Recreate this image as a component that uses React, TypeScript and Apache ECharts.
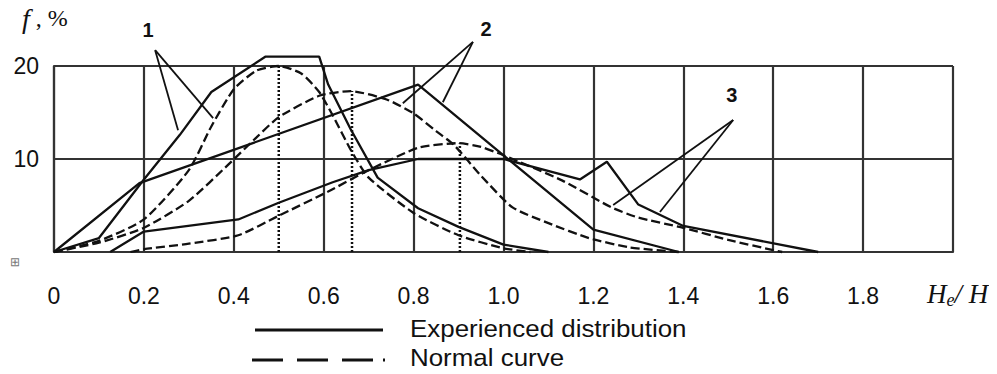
import React, { useEffect, useRef } from "react";
import * as echarts from "echarts";

type P = [number, number];

const xTickLabels = ["0", "0.2", "0.4", "0.6", "0.8", "1.0", "1.2", "1.4", "1.6", "1.8", ""];
const yTickLabels = ["", "10", "20"];

// Curve 1
const exp1: P[] = [[0, 0], [0.1, 1.5], [0.2, 7.8], [0.28, 12.6], [0.35, 17.2], [0.47, 21], [0.59, 21], [0.61, 18], [0.66, 13.2], [0.72, 8], [0.81, 4.7], [0.9, 2.7], [1.0, 0.8], [1.1, 0]];
const norm1: P[] = [[0, 0], [0.1, 1.2], [0.2, 3.5], [0.3, 8.8], [0.35, 13.5], [0.4, 17.5], [0.45, 19.5], [0.5, 20], [0.55, 19.2], [0.59, 17.2], [0.62, 14.7], [0.66, 11], [0.7, 8], [0.8, 4.2], [0.9, 1.8], [1.0, 0.4], [1.06, 0]];
// Curve 2
const exp2: P[] = [[0, 0], [0.19, 7.4], [0.81, 18], [1.2, 2.4], [1.39, 0]];
const norm2: P[] = [[0, 0], [0.1, 1], [0.2, 2.6], [0.3, 5.5], [0.39, 9.5], [0.45, 12.3], [0.5, 14.5], [0.59, 16.8], [0.66, 17.3], [0.74, 16.4], [0.8, 14.9], [0.85, 13], [0.89, 11.5], [0.95, 8.2], [1.02, 4.8], [1.1, 3.1], [1.19, 1.5], [1.28, 0.5], [1.39, 0]];
// Curve 3
const exp3: P[] = [[0.125, 0], [0.2, 2.2], [0.41, 3.5], [0.5, 5.3], [0.62, 7.5], [0.7, 8.8], [0.81, 10], [1.0, 10], [1.17, 7.8], [1.23, 9.7], [1.3, 5.1], [1.4, 2.8], [1.7, 0]];
const norm3: P[] = [[0.17, 0], [0.2, 0.3], [0.3, 0.9], [0.41, 1.8], [0.5, 3.9], [0.61, 6.5], [0.7, 8.8], [0.81, 11.2], [0.9, 11.7], [0.95, 11.3], [1.0, 10.4], [1.13, 7.7], [1.24, 4.8], [1.3, 3.7], [1.4, 2.6], [1.5, 1.3], [1.6, 0.2], [1.62, 0]];

// Means of normal curves (dotted verticals): [x, peak]
const means: P[] = [[0.5, 20], [0.663, 17.3], [0.903, 11.7]];

// Curve number labels and leader lines (data coords)
const curveLabels = ["1", "2", "3"];
const labelPos: P[] = [[0.209, 23.9], [0.961, 24.0], [1.508, 16.9]];
const leaderTips: P[] = [[0.225, 21.7], [0.932, 22.6], [1.511, 14.2]];
const leaderEnds: P[][] = [
  [[0.276, 13.1], [0.354, 14.4]],
  [[0.776, 16.0], [0.865, 16.1]],
  [[1.244, 5.05], [1.348, 4.3]],
];

const legendLabels = ["Experienced distribution", "Normal curve"];

const INK = "#111";
const SANS = "'Liberation Sans', Arial, sans-serif";
const SERIF = "'Liberation Serif', 'Times New Roman', serif";

export default function App() {
  const ref = useRef<HTMLDivElement>(null);
  useEffect(() => {
    if (!ref.current) return;
    const chart = echarts.init(ref.current, undefined, { renderer: "svg" });

    const lineSeries = (data: P[], dashed: boolean) => ({
      type: "line",
      data,
      symbol: "none",
      smooth: dashed ? 0.2 : false,
      clip: false,
      lineStyle: { color: INK, width: 2.3, type: dashed ? [9, 4] : "solid" },
      z: 5,
    });

    const series: any[] = [
      lineSeries(exp1, false),
      lineSeries(norm1, true),
      lineSeries(exp2, false),
      lineSeries(norm2, true),
      lineSeries(exp3, false),
      lineSeries(norm3, true),
    ];
    means.forEach((m) => {
      series.push({
        type: "line",
        data: [[m[0], 0], [m[0], m[1]]],
        symbol: "none",
        lineStyle: { color: INK, width: 2.5, type: [2, 2] },
        z: 4,
      });
    });
    leaderTips.forEach((t, i) => {
      leaderEnds[i].forEach((e) => {
        series.push({
          type: "line",
          data: [t, e],
          symbol: "none",
          clip: false,
          lineStyle: { color: INK, width: 1.8 },
          z: 6,
        });
      });
    });

    chart.setOption({
      animation: false,
      grid: { left: 54, right: 44, top: 66, bottom: 122 },
      xAxis: {
        type: "value",
        min: 0,
        max: 2,
        interval: 0.2,
        axisLine: { show: true, lineStyle: { color: "#333", width: 2.2 } },
        axisTick: { show: false },
        splitLine: { show: true, lineStyle: { color: "#333", width: 2.2 } },
        axisLabel: {
          margin: 32,
          fontSize: 23,
          color: INK,
          fontFamily: SANS,
          formatter: (v: number) => xTickLabels[Math.round(v / 0.2)] ?? "",
        },
      },
      yAxis: {
        type: "value",
        min: 0,
        max: 20,
        interval: 10,
        axisLine: { show: true, lineStyle: { color: "#333", width: 2.2 } },
        axisTick: { show: false },
        splitLine: { show: true, lineStyle: { color: "#333", width: 2.2 } },
        axisLabel: {
          margin: 15,
          fontSize: 23,
          color: INK,
          fontFamily: SANS,
          padding: [0, 0, 12, 0],
          formatter: (v: number) => yTickLabels[Math.round(v / 10)] ?? "",
        },
      },
      series,
    });

    const graphics: any[] = [];
    labelPos.forEach((p, i) => {
      const px = chart.convertToPixel({ gridIndex: 0 }, p) as number[];
      graphics.push({
        type: "text",
        x: px[0],
        y: px[1],
        style: {
          text: curveLabels[i],
          fill: INK,
          font: `bold 20px ${SANS}`,
          align: "center",
          verticalAlign: "middle",
        },
        z: 10,
      });
    });
    // axis titles
    graphics.push({
      type: "text",
      left: 22,
      top: 4,
      style: {
        text: "{f|f}{n| , %}",
        rich: {
          f: { font: `italic 28px ${SERIF}`, fill: INK },
          n: { font: `24px ${SERIF}`, fill: INK },
        },
      },
    });
    graphics.push({
      type: "text",
      left: 927,
      top: 280,
      style: {
        text: "{h|H}{s|e}{h|/ H}",
        rich: {
          h: { font: `italic 27px ${SERIF}`, fill: INK },
          s: { font: `italic 18px ${SERIF}`, fill: INK, padding: [12, 0, 0, 0] },
        },
      },
    });
    graphics.push({
      type: "text",
      left: 10,
      top: 256,
      style: { text: "⊞", font: `12px ${SANS}`, fill: "#777" },
    });
    // legend
    graphics.push({
      type: "line",
      shape: { x1: 255, y1: 330, x2: 383, y2: 330 },
      style: { stroke: INK, lineWidth: 3.2 },
    });
    graphics.push({
      type: "line",
      shape: { x1: 252, y1: 360, x2: 385, y2: 360 },
      style: { stroke: INK, lineWidth: 3.2, lineDash: [31, 14, 31, 14, 31, 10, 4, 100] },
    });
    graphics.push({
      type: "text",
      x: 410,
      y: 328,
      scaleX: 1.08,
      style: { text: legendLabels[0], font: `24px ${SANS}`, fill: INK, verticalAlign: "middle" },
    });
    graphics.push({
      type: "text",
      x: 410,
      y: 357,
      scaleX: 1.08,
      style: { text: legendLabels[1], font: `24px ${SANS}`, fill: INK, verticalAlign: "middle" },
    });
    chart.setOption({ graphic: graphics });

    return () => chart.dispose();
  }, []);
  return <div ref={ref} style={{ width: 997, height: 374, margin: -8 }} />;
}
